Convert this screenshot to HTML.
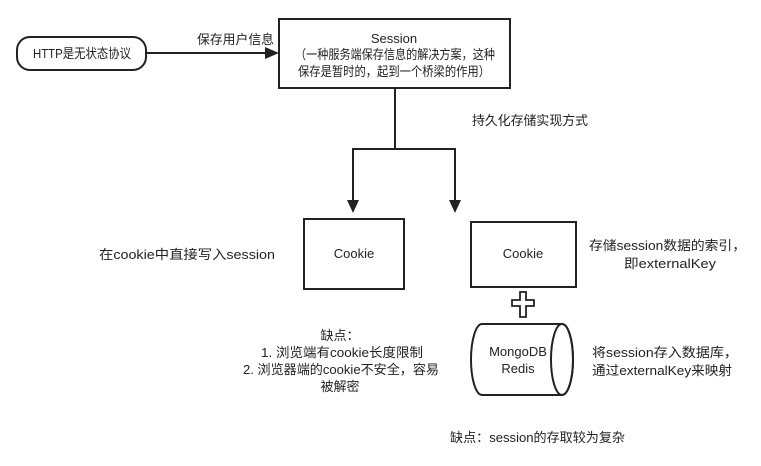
<!DOCTYPE html>
<html><head><meta charset="utf-8"><style>
html,body{margin:0;padding:0;background:#fff;}
svg text{font-family:"Liberation Sans","Noto Sans CJK SC",sans-serif;font-size:13px;fill:#222;}
</style></head><body>
<svg width="761" height="461" viewBox="0 0 761 461" xmlns="http://www.w3.org/2000/svg">
<g fill="none" stroke="#222" stroke-width="2">
<rect x="17" y="37" width="129" height="33" rx="13"/>
<line x1="146" y1="53" x2="268" y2="53"/>
<rect x="279" y="19" width="231" height="69"/>
<polyline points="395,88 395,149"/>
<polyline points="353,207 353,149 455,149 455,207"/>
<rect x="304" y="219" width="100" height="70"/>
<rect x="471" y="222" width="105" height="65"/>
<path d="M482,324 L562,324 A11,35.5 0 0 1 562,395 L482,395 A11,35.5 0 0 1 482,324 Z"/>
<ellipse cx="562" cy="359.5" rx="11" ry="35.5"/>
<path d="M520,292 h6 v8 h8 v6 h-8 v11 h-6 v-11 h-8 v-6 h8 z" stroke-width="1.8"/>
</g>
<g fill="#222">
<polygon points="279,53 265,47 265,59"/>
<polygon points="353,213 347,200 359,200"/>
<polygon points="455,213 449,200 461,200"/>
</g>
<text x="33" y="58" textLength="98" lengthAdjust="spacingAndGlyphs">HTTP是无状态协议</text>
<text x="197" y="44" textLength="77" lengthAdjust="spacingAndGlyphs">保存用户信息</text>
<text x="394" y="43" text-anchor="middle">Session</text>
<text x="295" y="59" textLength="200" lengthAdjust="spacingAndGlyphs">（一种服务端保存信息的解决方案，这种</text>
<text x="298" y="76" textLength="192" lengthAdjust="spacingAndGlyphs">保存是暂时的，起到一个桥梁的作用）</text>
<text x="472" y="125" textLength="116" lengthAdjust="spacingAndGlyphs">持久化存储实现方式</text>
<text x="354" y="258" text-anchor="middle">Cookie</text>
<text x="523" y="258" text-anchor="middle">Cookie</text>
<text x="99" y="259" textLength="176" lengthAdjust="spacingAndGlyphs">在cookie中直接写入session</text>
<text x="589" y="250" textLength="157" lengthAdjust="spacingAndGlyphs">存储session数据的索引，</text>
<text x="624" y="268" textLength="92" lengthAdjust="spacingAndGlyphs">即externalKey</text>
<text x="518" y="356" text-anchor="middle">MongoDB</text>
<text x="518" y="373" text-anchor="middle">Redis</text>
<text x="592" y="357" textLength="146" lengthAdjust="spacingAndGlyphs">将session存入数据库，</text>
<text x="592" y="375" textLength="140" lengthAdjust="spacingAndGlyphs">通过externalKey来映射</text>
<text x="340" y="340" text-anchor="middle">缺点：</text>
<text x="261" y="357" textLength="162" lengthAdjust="spacingAndGlyphs">1. 浏览端有cookie长度限制</text>
<text x="243" y="374" textLength="196" lengthAdjust="spacingAndGlyphs">2. 浏览器端的cookie不安全，容易</text>
<text x="340" y="391" text-anchor="middle">被解密</text>
<text x="450" y="442" textLength="175" lengthAdjust="spacingAndGlyphs">缺点：session的存取较为复杂</text>
</svg>
</body></html>
